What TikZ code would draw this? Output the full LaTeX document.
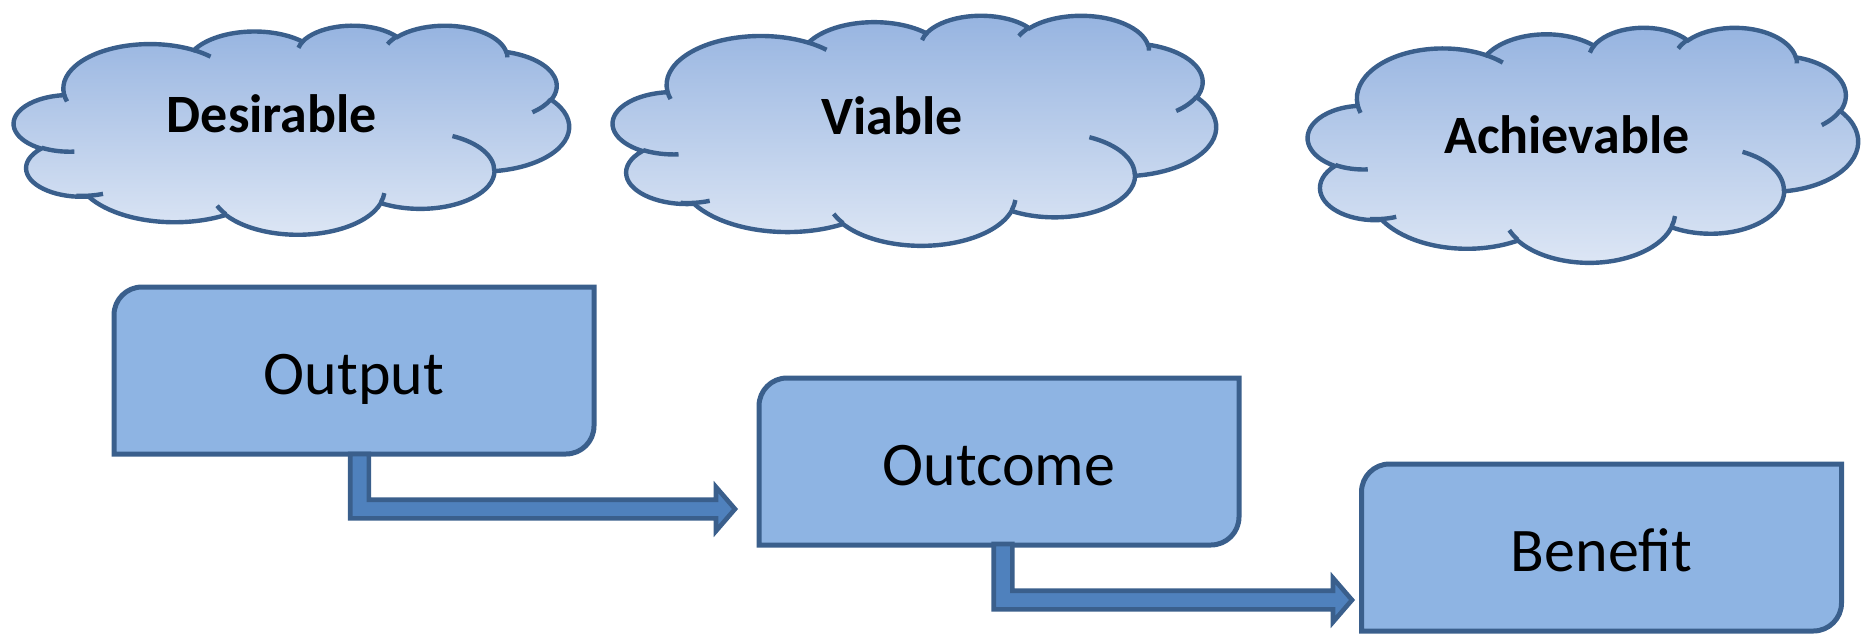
\documentclass[tikz,border=0pt]{standalone}
\usepackage{fontspec}
\setmainfont{Carlito}
\usetikzlibrary{calc,backgrounds}
\definecolor{linec}{HTML}{3A5F8C}
\definecolor{boxfill}{HTML}{8EB4E3}
\definecolor{arrowfill}{HTML}{4F81BD}
\definecolor{cloudtop}{HTML}{95B3E0}
\definecolor{cloudbot}{HTML}{DEE7F5}
% visual angle -> parametric angle for an elliptic arc
\newcommand\vpang[5]{%
  \pgfmathsetmacro\tmpa{atan2((#2)*sin(#4),(#3)*cos(#4))}%
  \pgfmathsetmacro\tmpb{atan2((#2)*sin((#4)+(#5)),(#3)*cos((#4)+(#5)))}%
  \pgfmathsetmacro\tmpd{mod((\tmpb)-(\tmpa)+720,360)}%
  \expandafter\let\csname cs#1\endcsname\tmpa
  \expandafter\let\csname cd#1\endcsname\tmpd}
\newcommand\carc[3]{arc[start angle=\csname cs#1\endcsname, delta angle=\csname cd#1\endcsname, x radius=#2, y radius=#3]}
\newcommand\cloudshape[4]{%
  \pgfmathsetmacro\cwu{#3/43.2}%
  \pgfmathsetmacro\chu{#4/43.2}%
  \begin{scope}[shift={(#1,#2)}, x=\cwu pt, y=-\chu pt]
    \path[cloudline, top color=cloudtop, bottom color=cloudbot]
      (3.900,14.370) \carc{1}{6.753}{9.190} \carc{2}{5.333}{7.267}
      \carc{3}{4.365}{5.945} \carc{4}{4.857}{6.595} \carc{5}{5.333}{7.273}
      \carc{6}{6.775}{9.220} \carc{7}{5.785}{7.867} \carc{8}{6.752}{9.215}
      \carc{9}{7.720}{10.543} \carc{10}{4.360}{5.918} \carc{11}{4.345}{5.945} -- cycle;
    \path[cloudline]
      (4.693,26.177) \carc{a}{4.345}{5.945}
      (6.928,34.899) \carc{b}{4.360}{5.918}
      (16.478,39.090) \carc{c}{6.752}{9.215}
      (28.827,34.751) \carc{d}{6.752}{9.215}
      (34.129,22.954) \carc{e}{5.785}{7.867}
      (41.798,15.354) \carc{f}{5.333}{7.273}
      (38.324,5.426) \carc{g}{4.857}{6.595}
      (29.078,3.952) \carc{h}{4.857}{6.595}
      (22.141,4.720) \carc{i}{4.365}{5.945}
      (14.000,5.192) \carc{j}{6.753}{9.190}
      (4.127,15.789) \carc{k}{6.753}{9.190};
  \end{scope}}
\newcommand\boxshape[1]{%
  \draw[boxline] (#1.south west) -- ([yshift=-28pt]#1.north west)
    arc[start angle=180, end angle=90, radius=28pt] -- (#1.north east)
    -- ([yshift=28pt]#1.south east) arc[start angle=0, end angle=-90, radius=28pt] -- cycle;}
\newcommand\bentarrow[2]{%
  \draw[arrowline] let \p1=(#1), \p2=(#2) in
    (\x1-9.3pt,\y1) -- (\x1+9.3pt,\y1) -- (\x1+9.3pt,\y2+9.3pt) -- (\x2-19pt,\y2+9.3pt)
    -- (\x2-19pt,\y2+22pt) -- (\x2,\y2) -- (\x2-19pt,\y2-22pt) -- (\x2-19pt,\y2-9.3pt)
    -- (\x1-9.3pt,\y2-9.3pt) -- cycle;}
\tikzset{
  cloudline/.style={draw=linec, line width=4.4pt},
  boxline/.style={draw=linec, fill=boxfill, line width=5pt},
  arrowline/.style={draw=linec, fill=arrowfill, line width=4.6pt, line join=miter},
  boxnode/.style={inner sep=0pt, outer sep=0pt, minimum width=480pt, minimum height=167pt,
    font=\fontsize{62}{70}\selectfont, text height=48pt, text depth=0pt},
  cloudtxt/.style={inner sep=0pt, anchor=base, font=\fontsize{54}{60}\selectfont\bfseries},
}
\begin{document}
\begin{tikzpicture}[x=1pt, y=-1pt]
\useasboundingbox (0,0) rectangle (1861,634);
\vpang{1}{6.753}{9.190}{-190.48748}{123.78053}
\vpang{2}{5.333}{7.267}{-144.10238}{89.94523}
\vpang{3}{4.365}{5.945}{-145.80792}{99.72302}
\vpang{4}{4.857}{6.595}{-130.98607}{117.24173}
\vpang{5}{5.333}{7.273}{-78.70888}{109.02692}
\vpang{6}{6.775}{9.220}{-46.26725}{130.26900}
\vpang{7}{5.785}{7.867}{0.62502}{114.03333}
\vpang{8}{6.752}{9.215}{22.45160}{115.17255}
\vpang{9}{7.720}{10.543}{66.24263}{75.71102}
\vpang{10}{4.360}{5.918}{-274.94208}{146.73557}
\vpang{11}{4.345}{5.945}{-246.82850}{152.51885}
\vpang{a}{4.345}{5.945}{86.74200}{26.42950}
\vpang{b}{4.360}{5.918}{73.61047}{20.88062}
\vpang{c}{6.752}{9.215}{137.62415}{14.08110}
\vpang{d}{6.752}{9.215}{6.45327}{15.99835}
\vpang{e}{5.785}{7.867}{-70.29235}{70.91737}
\vpang{f}{5.333}{7.273}{30.31803}{27.75150}
\vpang{g}{4.857}{6.595}{-13.74433}{14.85890}
\vpang{h}{4.857}{6.595}{-149.18145}{18.19537}
\vpang{i}{4.365}{5.945}{-163.49427}{17.68635}
\vpang{j}{6.753}{9.190}{-66.70695}{12.31935}
\vpang{k}{6.753}{9.190}{157.65435}{11.85817}
% clouds
\cloudshape{14}{25}{555}{209}
\cloudshape{613}{15}{603}{230}
\cloudshape{1308}{27}{550}{235}
\node[cloudtxt] (desir) at (272,132) {Desirable};
\node[cloudtxt] (viab) at (892,134) {Viable};
\node[cloudtxt] (achie) at (1567,153) {Achievable};
% boxes
\node[boxnode] (out) at (354,370.5) {Output};
\node[boxnode] (oc) at (999,461.5) {Outcome};
\node[boxnode] (ben) at (1601.5,547.5) {Benefit};
\begin{scope}[on background layer]
\boxshape{out}
\boxshape{oc}
\boxshape{ben}
\end{scope}
% arrows
\coordinate (a1s) at (359.5,454);
\coordinate (a1t) at (735,509);
\coordinate (a2s) at (1003,544);
\coordinate (a2t) at (1352,600);
\bentarrow{a1s}{a1t}
\bentarrow{a2s}{a2t}
\end{tikzpicture}
\end{document}
